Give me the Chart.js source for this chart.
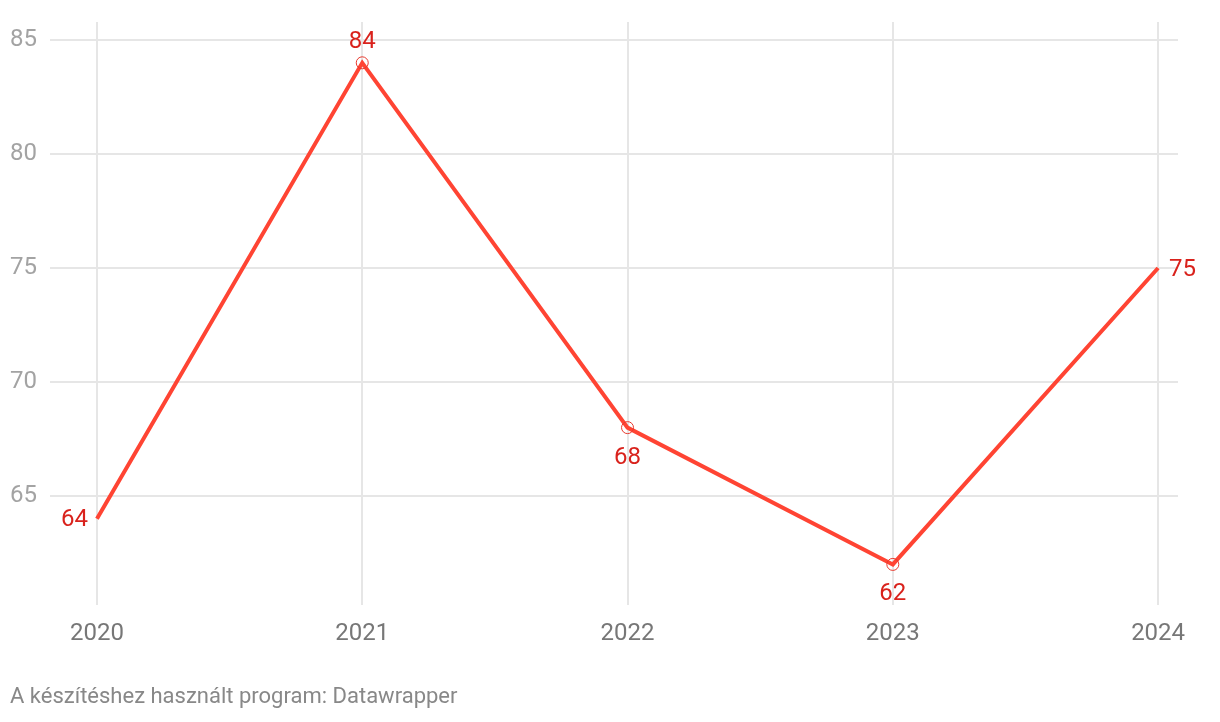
<!DOCTYPE html>
<html>
<head>
<meta charset="utf-8">
<script src="https://cdn.jsdelivr.net/npm/chart.js@4"></script>
<style>
  body { margin: 0; background: #fff; }
  #wrap { position: absolute; left: 0; top: 0; width: 1220px; height: 722px; }
  #note { position: absolute; left: 10px; top: 683px; font: 22px Roboto, sans-serif; color: #888; }
</style>
</head>
<body>
<div id="wrap"><canvas id="mainChart"></canvas></div>
<div id="note">A készítéshez használt program: Datawrapper</div>
<script>
const years = [2020, 2021, 2022, 2023, 2024];
const values = [64, 84, 68, 62, 75];
const yTicks = [65, 70, 75, 80, 85];
const labelSide = ['left', 'top', 'bottom', 'bottom', 'right'];

Chart.register({
  id: 'valueLabels',
  afterDatasetsDraw: function(chart) {
    var ctx = chart.ctx;
    var x = chart.scales.x, y = chart.scales.y;
    ctx.save();
    ctx.font = '24px Roboto';
    ctx.fillStyle = '#d9221c';
    ctx.textBaseline = 'middle';
    for (var i = 0; i < values.length; i++) {
      var px = x.getPixelForValue(years[i]), py = y.getPixelForValue(values[i]);
      var side = labelSide[i];
      if (side == 'left') { ctx.textAlign = 'right'; ctx.fillText(values[i], px - 9, py + 1); }
      else if (side == 'right') { ctx.textAlign = 'left'; ctx.fillText(values[i], px + 11, py + 2); }
      else if (side == 'top') { ctx.textAlign = 'center'; ctx.fillText(values[i], px, py - 21); }
      else { ctx.textAlign = 'center'; ctx.fillText(values[i], px, py + 30); }
    }
    ctx.restore();
  }
});

const myChart = new Chart(document.getElementById('mainChart'), {
  type: 'line',
  data: {
    datasets: [{
      data: years.map(function(yr, i) { return { x: yr, y: values[i] }; }),
      borderColor: '#ff4433',
      borderWidth: 4,
      tension: 0,
      pointRadius: [0, 6, 6, 6, 0],
      pointBorderWidth: 1,
      pointBorderColor: '#e8392d',
      pointBackgroundColor: 'rgba(0,0,0,0)',
      pointHoverRadius: 0
    }]
  },
  options: {
    responsive: true,
    maintainAspectRatio: false,
    animation: false,
    events: [],
    layout: { padding: { top: 22, right: 42, left: 0, bottom: 0 } },
    plugins: { legend: { display: false }, tooltip: { enabled: false } },
    scales: {
      x: {
        type: 'linear',
        min: 2019.823,
        max: 2024.075,
        afterFit: function(s) { s.height = 117; s.paddingLeft = 0; s.paddingRight = 0; },
        afterBuildTicks: function(s) { s.ticks = years.map(function(v) { return { value: v }; }); },
        grid: { color: '#e6e6e6', lineWidth: 2, drawTicks: false },
        border: { display: false },
        ticks: { padding: 15, color: '#777', font: { family: 'Roboto', size: 24 }, callback: function(v) { return String(v); } }
      },
      y: {
        min: 60.22,
        max: 85.79,
        afterFit: function(s) { s.width = 50; s.paddingTop = 0; s.paddingBottom = 0; },
        afterBuildTicks: function(s) { s.ticks = yTicks.map(function(v) { return { value: v }; }); },
        grid: { color: '#e6e6e6', lineWidth: 2, drawTicks: false },
        border: { display: false },
        ticks: { padding: 13, color: '#a3a3a3', font: { family: 'Roboto', size: 24 } }
      }
    }
  }
});
</script>
</body>
</html>
